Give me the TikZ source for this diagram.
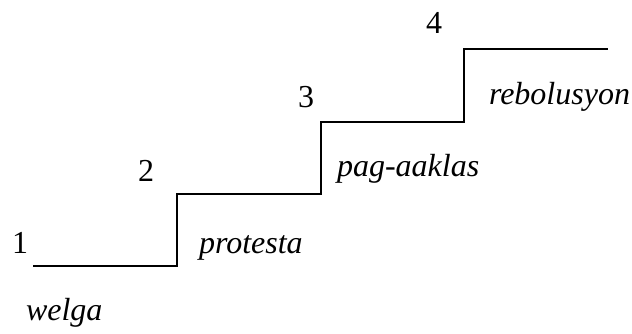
\documentclass[tikz,border=0pt]{standalone}
\usepackage{fontspec}
\setmainfont{Liberation Serif}[ItalicFont={Liberation Serif Italic}]
\usepackage{tikz}

\begin{document}
\begin{tikzpicture}[x=0.5pt,y=-0.5pt,line width=1pt,
	num/.style={inner sep=0pt,anchor=base west,font=\fontsize{16}{19}\selectfont},
	word/.style={num,font=\fontsize{16}{19}\selectfont\itshape}]
	\useasboundingbox (0,0) rectangle (632,333);
	% corners of the steps
	\coordinate (s0) at (33,266);
	\coordinate (s1) at (177,266);
	\coordinate (s2) at (177,194);
	\coordinate (s3) at (321,194);
	\coordinate (s4) at (321,122);
	\coordinate (s5) at (464,122);
	\coordinate (s6) at (464,49);
	\coordinate (s7) at (608,49);
	\draw (s0) -- (s1) -- (s2) -- (s3) -- (s4) -- (s5) -- (s6) -- (s7);

	\node[num] (n1) at (11,253) {1};
	\node[num] (n2) at (137,181) {2};
	\node[num] (n3) at (297,107) {3};
	\node[num] (n4) at (425,33) {4};

	\node[word] (welga) at (25,320) {welga};
	\node[word] (protesta) at (198,253) {protesta};
	\node[word] (aaklas) at (336,176) {pag-aaklas};
	\node[word] (rebolusyon) at (488,104) {rebolusyon};
\end{tikzpicture}
\end{document}
